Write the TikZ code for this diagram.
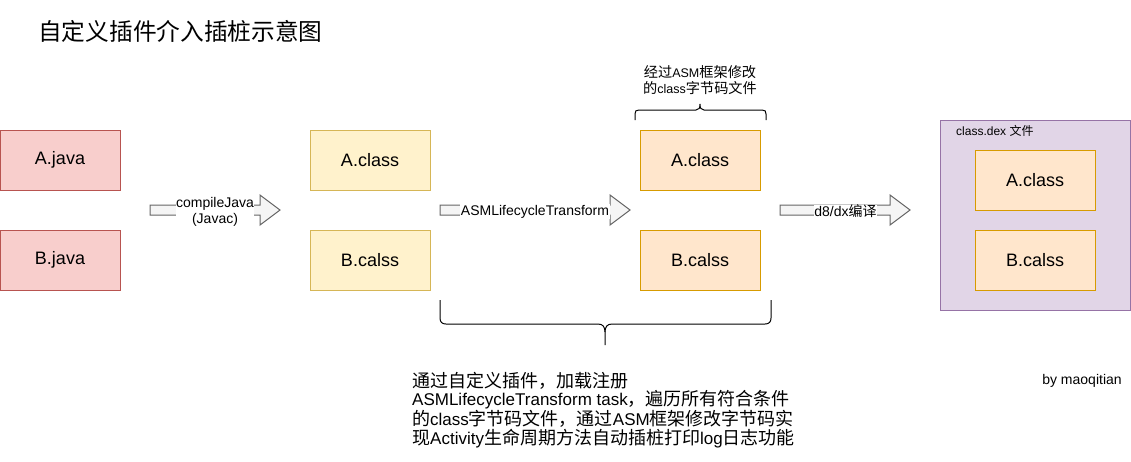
\documentclass[tikz,border=0pt]{standalone}
\usepackage{fontspec}
\setmainfont{Liberation Sans}
\newfontfamily\cjk{Noto Sans CJK SC}
\definecolor{redfill}{HTML}{F8CECC}
\definecolor{redline}{HTML}{B85450}
\definecolor{yelfill}{HTML}{FFF2CC}
\definecolor{yelline}{HTML}{D6B656}
\definecolor{orgfill}{HTML}{FFE6CC}
\definecolor{orgline}{HTML}{D79B00}
\definecolor{purfill}{HTML}{E1D5E7}
\definecolor{purline}{HTML}{9673A6}
\definecolor{arrfill}{HTML}{F5F5F5}
\definecolor{arrline}{HTML}{666666}
% CJK runs at a given size
\newcommand{\zhsize}[2]{{\cjk\fontsize{#1}{#1}\selectfont #2}}
\begin{document}
\begin{tikzpicture}[x=1pt,y=-1pt,
  box/.style={draw, line width=1pt, minimum width=120pt, minimum height=60pt, inner sep=0pt,
    font=\fontsize{18}{20}\selectfont},
  redbox/.style={box, fill=redfill, draw=redline},
  yelbox/.style={box, fill=yelfill, draw=yelline},
  orgbox/.style={box, fill=orgfill, draw=orgline},
  blockarrow/.style={fill=arrfill, draw=arrline, line width=1pt, line join=miter},
  arrlabel/.style={fill=white, inner sep=0.5pt, align=center, font=\fontsize{14}{16}\selectfont},
  bracestyle/.style={draw=black, line width=1pt}
]
\useasboundingbox (0,0) rectangle (1131,461);
\fill[white] (0,0) rectangle (1131,461);

% title
\node[anchor=west, inner sep=0pt] (title) at (38,31) {\zhsize{23.7}{自定义插件介入插桩示意图}};

% source files
\node[redbox] (ajava) at (60,160) {A.java};
\node[redbox] (bjava) at (60,260) {B.java};

% class files
\node[yelbox] (aclass) at (370,160) {A.class};
\node[yelbox] (bclass) at (370,260) {B.calss};

% modified class files
\node[orgbox] (aclass2) at (700,160) {A.class};
\node[orgbox] (bclass2) at (700,260) {B.calss};

% dex container
\node[draw=purline, fill=purfill, line width=1pt, minimum width=190pt, minimum height=190pt, inner sep=0pt] (dex) at (1035,215) {};
\node[anchor=west, inner sep=0pt, font=\fontsize{12}{14}\selectfont] (dexlabel) at (956,131) {class.dex \zhsize{12}{文件}};
\node[orgbox] (aclass3) at (1035,180.5) {A.class};
\node[orgbox] (bclass3) at (1035,260.5) {B.calss};

% block arrows
\draw[blockarrow] (150,205) -- (260,205) -- (260,195) -- (280,210) -- (260,225) -- (260,215) -- (150,215) -- cycle;
\node[arrlabel] (lab1) at (215,212) {compileJava\\(Javac)};

\draw[blockarrow] (440,205) -- (610,205) -- (610,195) -- (630,210) -- (610,225) -- (610,215) -- (440,215) -- cycle;
\node[arrlabel] (lab2) at (535,211.5) {ASMLifecycleTransform};

\draw[blockarrow] (780,205) -- (890,205) -- (890,195) -- (910,210) -- (890,225) -- (890,215) -- (780,215) -- cycle;
\node[arrlabel] (lab3) at (845.5,211.5) {d8/dx\zhsize{14}{编译}};

% top brace
\draw[bracestyle] (635,120) -- (635,114) .. controls (635,111) and (636,110) .. (639,110) -- (696,110)
  .. controls (699,110) and (700,108) .. (700,104)
  .. controls (700,108) and (701,110) .. (704,110) -- (762,110)
  .. controls (765,110) and (766,111) .. (766,114) -- (766,120);
\node[inner sep=0pt, align=center, font=\fontsize{12.5}{16}\selectfont] (toptext) at (700,80)
  {\zhsize{14.2}{经过}ASM\zhsize{14.2}{框架修改}\\\zhsize{14.2}{的}class\zhsize{14.2}{字节码文件}};

% bottom brace
\draw[bracestyle] (440,300) -- (440,318) .. controls (440,322) and (442,324) .. (446,324) -- (598,324)
  .. controls (603,324) and (605,327) .. (605,332) -- (605,345);
\draw[bracestyle] (605,332) .. controls (605,327) and (607,324) .. (612,324) -- (765,324)
  .. controls (769,324) and (771,322) .. (771,318) -- (771,300);

\node[anchor=north west, inner sep=0pt, align=left, font=\fontsize{17}{18.4}\selectfont] (desc) at (412,372)
  {\zhsize{18}{通过自定义插件，加载注册}\\
   ASMLifecycleTransform task\zhsize{18}{，遍历所有符合条件}\\
   \zhsize{18}{的}class\zhsize{18}{字节码文件，通过}ASM\zhsize{18}{框架修改字节码实}\\
   \zhsize{18}{现}Activity\zhsize{18}{生命周期方法自动插桩打印}log\zhsize{18}{日志功能}};

\node[inner sep=0pt, font=\fontsize{14}{16}\selectfont] (author) at (1082,381) {by maoqitian};
\end{tikzpicture}
\end{document}
